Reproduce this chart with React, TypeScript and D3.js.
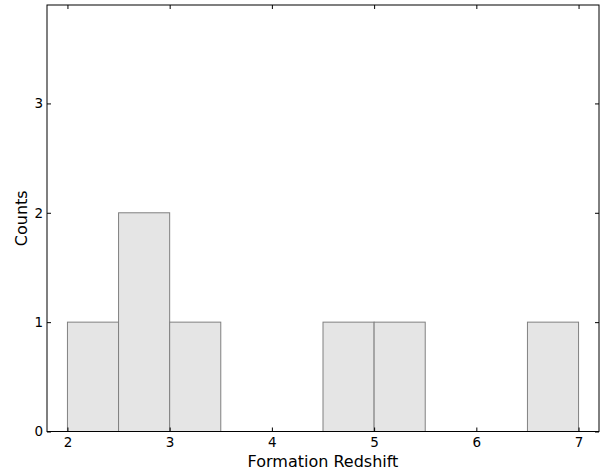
import React, { useEffect, useRef } from "react";
import * as d3 from "d3";

// histogram bin edges and counts
const binEdges = [2, 2.5, 3, 3.5, 4, 4.5, 5, 5.5, 6, 6.5, 7];
const counts = [1, 2, 1, 0, 0, 1, 1, 0, 0, 1];
const xTicks = [2, 3, 4, 5, 6, 7];
const yTicks = [0, 1, 2, 3];

const App = () => {
  const svgRef = useRef<SVGSVGElement | null>(null);

  useEffect(() => {
    const svg = d3.select(svgRef.current);
    const width = 607;
    const height = 470;
    const margin = { top: 5, right: 8, bottom: 38.5, left: 47 };

    svg.selectAll("*").remove();

    const x = d3.scaleLinear().domain([1.8, 7.2]).range([margin.left, width - margin.right]);
    const y = d3.scaleLinear().domain([0, 3.9]).range([height - margin.bottom, margin.top]);

    const font = "DejaVu Sans, sans-serif";
    const fmt = d3.format("d");

    // bars
    const bins = counts.map((c, i) => ({ x0: binEdges[i], x1: binEdges[i + 1], count: c }));
    svg.append("g")
      .selectAll("rect")
      .data(bins.filter(d => d.count > 0))
      .join("rect")
      .attr("x", d => x(d.x0))
      .attr("y", d => y(d.count))
      .attr("width", d => x(d.x1) - x(d.x0))
      .attr("height", d => y(0) - y(d.count))
      .attr("fill", "#e5e5e5")
      .attr("stroke", "#808080")
      .attr("stroke-width", 1);

    const tickLen = 4;

    // bottom axis, ticks pointing inward
    svg.append("g")
      .attr("transform", `translate(0, ${height - margin.bottom})`)
      .call(d3.axisBottom(x).tickValues(xTicks).tickFormat(d => fmt(d as number)).tickSize(-tickLen).tickPadding(5.5).tickSizeOuter(0))
      .call(g => g.select(".domain").remove())
      .call(g => g.selectAll("text").attr("font-family", font).attr("font-size", 13.5).attr("fill", "#000"));

    // top ticks
    svg.append("g")
      .attr("transform", `translate(0, ${margin.top})`)
      .call(d3.axisTop(x).tickValues(xTicks).tickSize(-tickLen).tickSizeOuter(0).tickFormat(() => ""))
      .call(g => g.select(".domain").remove());

    // left axis
    svg.append("g")
      .attr("transform", `translate(${margin.left}, 0)`)
      .call(d3.axisLeft(y).tickValues(yTicks).tickFormat(d => fmt(d as number)).tickSize(-tickLen).tickPadding(4).tickSizeOuter(0))
      .call(g => g.select(".domain").remove())
      .call(g => g.selectAll("text").attr("font-family", font).attr("font-size", 13.5).attr("fill", "#000"));

    // right ticks
    svg.append("g")
      .attr("transform", `translate(${width - margin.right}, 0)`)
      .call(d3.axisRight(y).tickValues(yTicks).tickSize(-tickLen).tickSizeOuter(0).tickFormat(() => ""))
      .call(g => g.select(".domain").remove());

    // frame
    svg.append("rect")
      .attr("x", margin.left)
      .attr("y", margin.top)
      .attr("width", width - margin.left - margin.right)
      .attr("height", height - margin.top - margin.bottom)
      .attr("fill", "none")
      .attr("stroke", "#000")
      .attr("stroke-width", 1);

    // axis labels
    svg.append("text")
      .attr("x", (margin.left + width - margin.right) / 2)
      .attr("y", 467)
      .attr("text-anchor", "middle")
      .attr("font-family", font)
      .attr("font-size", 16)
      .text("Formation Redshift");

    svg.append("text")
      .attr("transform", `translate(27, ${(margin.top + height - margin.bottom) / 2}) rotate(-90)`)
      .attr("text-anchor", "middle")
      .attr("font-family", font)
      .attr("font-size", 16)
      .text("Counts");
  }, []);

  return (
    <svg
      ref={svgRef}
      width={607}
      height={470}
      style={{ position: "absolute", left: 0, top: 0, background: "#fff" }}
    />
  );
};

export default App;
